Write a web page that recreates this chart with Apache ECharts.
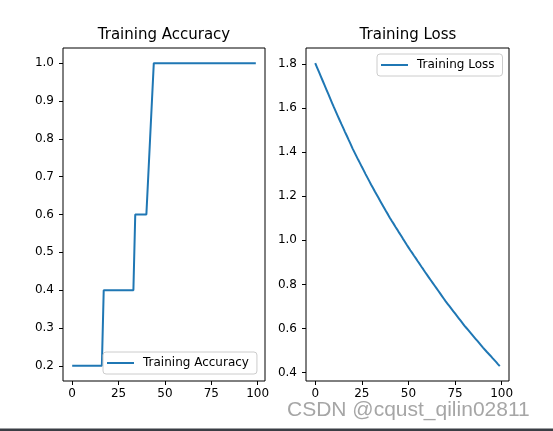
<!DOCTYPE html>
<html>
<head>
<meta charset="utf-8">
<script src="https://cdn.jsdelivr.net/npm/echarts@6/dist/echarts.min.js"></script>
<style>
html,body{margin:0;padding:0;background:#fff;}
#chart{width:553px;height:431px;}
</style>
</head>
<body>
<div id="chart"></div>
<script>
// ---- data ----
var epochs = [];
for (var e = 0; e < 100; e++) epochs.push(e);

var accuracy = [
  0.2,0.2,0.2,0.2,0.2,0.2,0.2,0.2,0.2,0.2,
  0.2,0.2,0.2,0.2,0.2,0.2,0.2,0.4,0.4,0.4,
  0.4,0.4,0.4,0.4,0.4,0.4,0.4,0.4,0.4,0.4,
  0.4,0.4,0.4,0.4,0.6,0.6,0.6,0.6,0.6,0.6,
  0.6,0.6,0.8,0.8,1.0,1.0,1.0,1.0,1.0,1.0,
  1.0,1.0,1.0,1.0,1.0,1.0,1.0,1.0,1.0,1.0,
  1.0,1.0,1.0,1.0,1.0,1.0,1.0,1.0,1.0,1.0,
  1.0,1.0,1.0,1.0,1.0,1.0,1.0,1.0,1.0,1.0,
  1.0,1.0,1.0,1.0,1.0,1.0,1.0,1.0,1.0,1.0,
  1.0,1.0,1.0,1.0,1.0,1.0,1.0,1.0,1.0,1.0
];

var loss = [
  1.805,1.785,1.765,1.745,1.725,1.705,1.685,1.665,1.645,1.625,
  1.605,1.586,1.567,1.548,1.529,1.511,1.492,1.474,1.455,1.437,
  1.418,1.401,1.384,1.367,1.351,1.334,1.318,1.301,1.285,1.269,
  1.253,1.238,1.222,1.207,1.192,1.177,1.162,1.147,1.132,1.118,
  1.103,1.089,1.076,1.062,1.049,1.035,1.022,1.008,0.995,0.981,
  0.968,0.955,0.943,0.930,0.918,0.905,0.893,0.880,0.868,0.855,
  0.843,0.831,0.819,0.807,0.795,0.783,0.771,0.759,0.747,0.735,
  0.723,0.712,0.701,0.690,0.679,0.668,0.657,0.646,0.635,0.624,
  0.613,0.603,0.593,0.583,0.573,0.563,0.553,0.543,0.533,0.523,
  0.513,0.504,0.494,0.485,0.476,0.466,0.457,0.448,0.438,0.429
];

var xTicks = [0, 25, 50, 75, 100];
var accTicks = [0.2, 0.3, 0.4, 0.5, 0.6, 0.7, 0.8, 0.9, 1.0];
var lossTicks = [0.4, 0.6, 0.8, 1.0, 1.2, 1.4, 1.6, 1.8];

var titles = ['Training Accuracy', 'Training Loss'];
var watermark = 'CSDN @cqust_qilin02811';

// ---- build ----
var FONT = 'DejaVu Sans';
var BLUE = '#1f77b4';

function pairs(ys) {
  return epochs.map(function (x, i) { return [x, ys[i]]; });
}
function xAxis(idx) {
  return {
    type: 'value', gridIndex: idx, min: -4.95, max: 103.95, position: 'bottom',
    axisLine: { show: false, onZero: false },
    splitLine: { show: false },
    axisTick: { show: true, length: 4, customValues: xTicks, lineStyle: { color: '#000', width: 1 } },
    axisLabel: { customValues: xTicks, margin: 7, color: '#000', fontSize: 12, fontFamily: FONT }
  };
}
function yAxis(idx, min, max, ticks) {
  return {
    type: 'value', gridIndex: idx, min: min, max: max, position: 'left',
    axisLine: { show: false, onZero: false },
    splitLine: { show: false },
    axisTick: { show: true, length: 4, customValues: ticks, lineStyle: { color: '#000', width: 1 } },
    axisLabel: {
      customValues: ticks, margin: 9, color: '#000', fontSize: 12, fontFamily: FONT,
      formatter: function (v) { return v.toFixed(1); }
    }
  };
}
function legend(name, left, top, rightPad) {
  return {
    data: [name], left: left, top: top, orient: 'vertical',
    icon: 'rect', itemWidth: 27, itemHeight: 2,
    padding: [5, rightPad, 5, 4],
    backgroundColor: 'rgba(255,255,255,0.8)', borderColor: '#cccccc', borderWidth: 1, borderRadius: 3,
    textStyle: { color: '#000', fontSize: 12, fontFamily: FONT, padding: [0, 0, 0, 4] },
    selectedMode: false
  };
}

var chart = echarts.init(document.getElementById('chart'), null, { renderer: 'canvas' });
chart.setOption({
  backgroundColor: '#fff',
  animation: false,
  title: [
    { text: titles[0], left: 164, top: 28, textAlign: 'center', padding: 0,
      textStyle: { fontSize: 15, fontWeight: 'normal', color: '#000', fontFamily: FONT } },
    { text: titles[1], left: 408, top: 28, textAlign: 'center', padding: 0,
      textStyle: { fontSize: 15, fontWeight: 'normal', color: '#000', fontFamily: FONT } }
  ],
  grid: [
    { left: 63, top: 48, right: 288, bottom: 50, show: true, borderColor: '#000', borderWidth: 1, backgroundColor: 'transparent' },
    { left: 306, top: 48, right: 44, bottom: 50, show: true, borderColor: '#000', borderWidth: 1, backgroundColor: 'transparent' }
  ],
  xAxis: [xAxis(0), xAxis(1)],
  yAxis: [yAxis(0, 0.16, 1.04, accTicks), yAxis(1, 0.3612, 1.8738, lossTicks)],
  legend: [
    legend(titles[0], 103, 352, 8),
    legend(titles[1], 377, 54, 8)
  ],
  series: [
    { name: titles[0], type: 'line', xAxisIndex: 0, yAxisIndex: 0, data: pairs(accuracy),
      showSymbol: false, symbol: 'none', color: BLUE, lineStyle: { color: BLUE, width: 2 } },
    { name: titles[1], type: 'line', xAxisIndex: 1, yAxisIndex: 1, data: pairs(loss),
      showSymbol: false, symbol: 'none', color: BLUE, lineStyle: { color: BLUE, width: 2 } }
  ],
  graphic: [
    { type: 'text', left: 287, top: 400, silent: true,
      style: { text: watermark, fontSize: 21, fontFamily: 'Liberation Sans', fill: '#a6a6a6' } },
    { type: 'rect', shape: { x: 0, y: 428.5, width: 553, height: 3 }, silent: true,
      style: { fill: '#3a3e44' } }
  ]
});
</script>
</body>
</html>
